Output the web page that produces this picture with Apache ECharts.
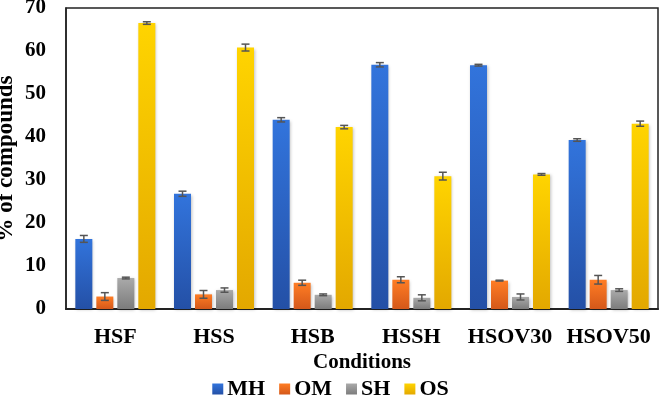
<!DOCTYPE html>
<html>
<head>
<meta charset="utf-8">
<script src="https://cdn.jsdelivr.net/npm/echarts@6/dist/echarts.min.js"></script>
<style>
  html, body { margin: 0; padding: 0; background: #fff; }
  #chart { width: 661px; height: 398px; }
</style>
</head>
<body>
<div id="chart"></div>
<script>
const conditions = ['HSF', 'HSS', 'HSB', 'HSSH', 'HSOV30', 'HSOV50'];
const seriesNames = ['MH', 'OM', 'SH', 'OS'];
const mhValues = [16.3, 26.8, 44.0, 56.8, 56.7, 39.3];
const omValues = [2.9, 3.4, 6.1, 6.8, 6.6, 6.8];
const shValues = [7.2, 4.4, 3.3, 2.6, 2.8, 4.4];
const osValues = [66.5, 60.8, 42.3, 30.9, 31.3, 43.1];
const mhErr = [0.8, 0.6, 0.5, 0.5, 0.2, 0.3];
const omErr = [0.9, 0.9, 0.6, 0.7, 0.1, 1.0];
const shErr = [0.2, 0.5, 0.2, 0.7, 0.7, 0.3];
const osErr = [0.3, 0.8, 0.4, 0.9, 0.2, 0.6];
const yTicks = [0, 10, 20, 30, 40, 50, 60, 70];

const values = [mhValues, omValues, shValues, osValues];
const errors = [mhErr, omErr, shErr, osErr];
const gradients = [
  ['#3274dc', '#2450a6'],
  ['#ff7d24', '#d4581a'],
  ['#aaaaaa', '#7c7c7c'],
  ['#ffd400', '#e3a800']
];
const font = 'Liberation Serif';
const barW = 17, barGapPx = 4;

const myChart = echarts.init(document.getElementById('chart'));

const barSeries = seriesNames.map((name, i) => ({
  name: name,
  type: 'bar',
  barWidth: barW,
  barGap: (barGapPx / barW * 100) + '%',
  data: values[i],
  itemStyle: {
    color: new echarts.graphic.LinearGradient(0, 0, 0, 1, [
      {offset: 0, color: gradients[i][0]},
      {offset: 1, color: gradients[i][1]}
    ]),
    shadowBlur: 3,
    shadowOffsetX: 1,
    shadowOffsetY: 1,
    shadowColor: 'rgba(0,0,0,0.25)'
  }
}));

const errSeries = seriesNames.map((name, i) => ({
  type: 'custom',
  name: name + ' err',
  z: 10,
  data: values[i].map((v, j) => [j, v, errors[i][j]]),
  renderItem: function (params, api) {
    const off = (i - 1.5) * (barW + barGapPx);
    const hi = api.coord([api.value(0), api.value(1) + api.value(2)]);
    const lo = api.coord([api.value(0), api.value(1) - api.value(2)]);
    const x = hi[0] + off;
    const cap = 4;
    const st = {stroke: '#555', lineWidth: 1.5};
    return {
      type: 'group',
      children: [
        {type: 'line', shape: {x1: x, y1: hi[1], x2: x, y2: lo[1]}, style: st},
        {type: 'line', shape: {x1: x - cap, y1: hi[1], x2: x + cap, y2: hi[1]}, style: st},
        {type: 'line', shape: {x1: x - cap, y1: lo[1], x2: x + cap, y2: lo[1]}, style: st}
      ]
    };
  }
}));

const option = {
  animation: false,
  grid: {
    left: 66, right: 3, top: 8, bottom: 89,
    outerBoundsMode: 'none',
    containLabel: false,
    show: true, borderColor: '#222', borderWidth: 1.5
  },
  legend: {
    data: seriesNames,
    top: 378,
    left: 'center',
    padding: 0,
    icon: 'rect',
    itemWidth: 11,
    itemHeight: 11,
    itemGap: 14,
    textStyle: {fontFamily: font, fontWeight: 'bold', fontSize: 22, color: '#000', padding: [0, 0, 0, -1]}
  },
  xAxis: {
    type: 'category',
    data: conditions,
    name: 'Conditions',
    nameLocation: 'middle',
    nameGap: 43,
    nameMoveOverlap: false,
    nameTextStyle: {fontFamily: font, fontWeight: 'bold', fontSize: 21, color: '#000'},
    axisLine: {lineStyle: {color: '#222', width: 2}},
    axisTick: {show: false},
    axisLabel: {interval: 0, fontFamily: font, fontWeight: 'bold', fontSize: 22, color: '#000', margin: 17}
  },
  yAxis: {
    type: 'value',
    min: yTicks[0],
    max: yTicks[yTicks.length - 1],
    interval: 10,
    name: '% of compounds',
    nameLocation: 'middle',
    nameGap: 48,
    nameMoveOverlap: false,
    nameTextStyle: {fontFamily: font, fontWeight: 'bold', fontSize: 23, color: '#000'},
    axisLine: {show: true, lineStyle: {color: '#222', width: 1.5}},
    axisTick: {show: false},
    splitLine: {show: false},
    axisLabel: {fontFamily: font, fontWeight: 'bold', fontSize: 21, color: '#000', margin: 20}
  },
  series: barSeries.concat(errSeries)
};
myChart.setOption(option);
</script>
</body>
</html>
